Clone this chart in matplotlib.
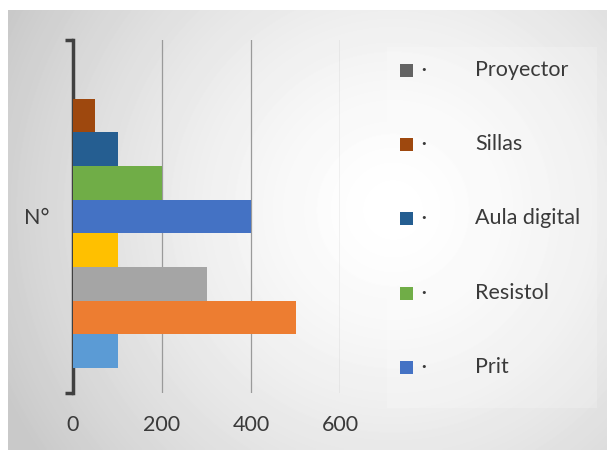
import numpy as np
import matplotlib
matplotlib.use("Agg")
import matplotlib.pyplot as plt
from matplotlib.patches import Rectangle

plt.rcParams['font.family'] = ['Lato', 'DejaVu Sans']

# series, bottom bar first (single category "N°")
series_names = ["", "", "", "", "Prit", "Resistol", "Aula digital", "Sillas", "Proyector"]
series_values = [100, 500, 300, 100, 400, 200, 100, 50, 0]
series_colors = ["#5B9BD5", "#ED7D31", "#A5A5A5", "#FFC000", "#4472C4",
                 "#70AD47", "#255E91", "#9E480E", "#636363"]
category = "N°"
x_ticks = [0, 200, 400, 600]

W, H = 607, 450
fig = plt.figure(figsize=(W / 100, H / 100), dpi=100)

# radial gradient background of the chart area
bg = fig.add_axes([8 / W, 0, 1 - 8 / W, 1 - 10 / H], zorder=-5)
gh, gw = 440, 599
yy, xx = np.mgrid[0:gh, 0:gw]
r = np.hypot(xx - 385, yy - 200) / 430
grad = 1 - 0.21 * np.clip(r, 0, 1) ** 1.5
bg.imshow(grad, cmap='gray', vmin=0, vmax=1, aspect='auto', interpolation='bilinear')
bg.axis('off')

ax = fig.add_axes([73 / W, 57 / H, 267 / W, 353 / H])
ax.set_facecolor('none')

n = len(series_values)
slot = 1 / (n + 1.5)
for i, (v, c) in enumerate(zip(series_values, series_colors)):
    y = -0.5 + 0.75 * slot + (i + 0.5) * slot
    ax.barh(y, v, height=slot, color=c, zorder=3)

ax.set_xlim(0, 600)
ax.set_ylim(-0.5, 0.5)
ax.set_xticks(x_ticks)
ax.set_xticklabels([str(t) for t in x_ticks])
ax.tick_params(axis='x', length=0, pad=16, labelsize=15.5, labelcolor='#3a3a3a')
ax.grid(axis='x', color='#9a9a9a', lw=0.9, zorder=0)

ax.set_yticks([0])
ax.set_yticklabels([category])
ax.tick_params(axis='y', length=0, pad=17, labelsize=15.5, labelcolor='#3a3a3a')
ax.set_yticks([-0.5, 0.5], minor=True)
ax.tick_params(axis='y', which='minor', length=6, width=2.5, color='#404040')

for s in ['top', 'right', 'bottom']:
    ax.spines[s].set_visible(False)
ax.spines['left'].set_color('#404040')
ax.spines['left'].set_linewidth(2.5)

# legend (top entries only)
fig.add_artist(Rectangle((387 / W, 1 - 408 / H), 210 / W, 361 / H,
                         transform=fig.transFigure, facecolor='white',
                         alpha=0.2, edgecolor='none'))
legend_idx = [8, 7, 6, 5, 4]
for k, i in enumerate(legend_idx):
    yc = 70 + 74.2 * k
    fig.add_artist(Rectangle((400 / W, 1 - (yc + 7) / H), 13 / W, 13 / H,
                             transform=fig.transFigure,
                             facecolor=series_colors[i], edgecolor='none'))
    fig.text(421 / W, 1 - yc / H, "·", fontsize=12, fontweight='bold',
             color='#3a3a3a', ha='left', va='center')
    fig.text(475 / W, 1 - yc / H, series_names[i], fontsize=15.5,
             color='#3a3a3a', ha='left', va='center')

fig.savefig("out.png", dpi=100)
